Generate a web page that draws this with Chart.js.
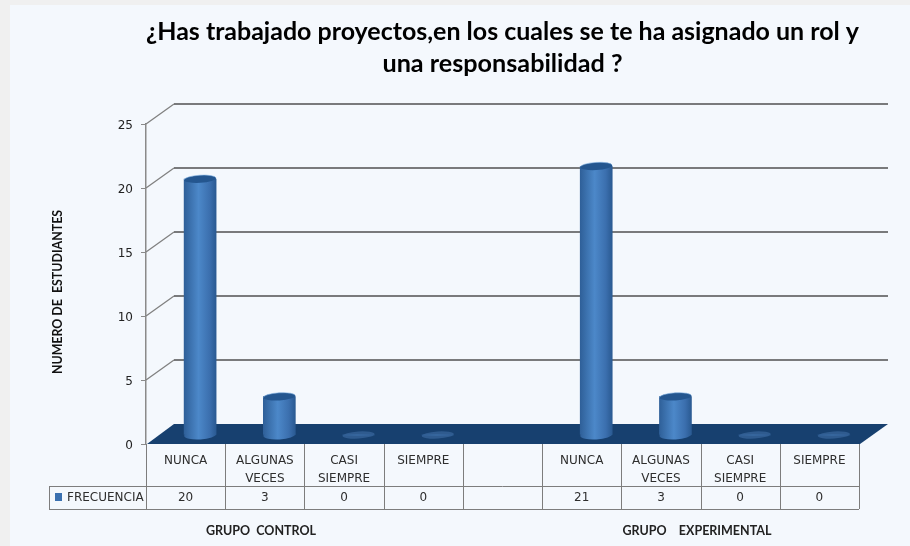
<!DOCTYPE html>
<html><head><meta charset="utf-8">
<style>html,body{margin:0;padding:0;background:#f4f8fd}canvas{display:block}</style>
<script src="https://cdn.jsdelivr.net/npm/chart.js@4"></script></head>
<body><canvas id="c" width="910" height="546"></canvas>
<script>
const categories = [["NUNCA"],["ALGUNAS","VECES"],["CASI","SIEMPRE"],["SIEMPRE"],[""],["NUNCA"],["ALGUNAS","VECES"],["CASI","SIEMPRE"],["SIEMPRE"]];
const frecuencia = [20,3,0,0,null,21,3,0,0];
const seriesName = "FRECUENCIA";
const yTicks = [0,5,10,15,20,25];
const titleLines = ["¿Has trabajado proyectos,en los cuales se te ha asignado un rol y","una responsabilidad ?"];
const yTitle = "NUMERO DE  ESTUDIANTES";
const groupControl = "GRUPO  CONTROL";
const groupExperimental = "GRUPO    EXPERIMENTAL";

const DX = 28, DY = 20, BAR_DX = 14.5, BAR_DY = 9;
const tableFont = '12px "DejaVu Sans"';

function barGradientAt(c,cx){
  const g = c.createLinearGradient(cx-16,0,cx+16,0);
  g.addColorStop(0,'#2f6099'); g.addColorStop(0.45,'#4c88c9'); g.addColorStop(0.8,'#3b6fae'); g.addColorStop(1,'#2a5a92');
  return g;
}
function barGradient(ctx){
  const chart = ctx.chart;
  if(ctx.type !== 'data' || !chart.chartArea) return '#3a70b0';
  return barGradientAt(chart.ctx, chart.scales.x.getPixelForValue(ctx.dataIndex));
}

const scene = {
  id:'scene',
  beforeDraw(chart){
    const c = chart.ctx;
    c.save();
    c.fillStyle = '#f4f8fd'; c.fillRect(0,0,910,546);
    c.fillStyle = '#f0f0f0'; c.fillRect(0,0,10,546); c.fillRect(0,0,910,5);
    c.restore();
  },
  beforeDatasetsDraw(chart){
    const c = chart.ctx, {left,right} = chart.chartArea, y = chart.scales.y, x = chart.scales.x;
    c.save();
    c.strokeStyle='#808080'; c.lineWidth=1.3;
    yTicks.forEach(v=>{
      if(v===0) return;
      const p=y.getPixelForValue(v);
      c.beginPath();c.moveTo(left,p);c.lineTo(left+DX,p-DY);c.stroke();
    });
    c.strokeStyle='#505050';
    yTicks.forEach(v=>{
      if(v===0) return;
      const p=y.getPixelForValue(v);
      c.beginPath();c.moveTo(left+DX,p-DY);c.lineTo(right+DX+1,p-DY);c.stroke();
    });
    const b=y.getPixelForValue(0);
    c.fillStyle='#17406f';
    c.beginPath();c.moveTo(left+1,b);c.lineTo(left+DX,b-DY);c.lineTo(right+DX+1,b-DY);c.lineTo(right+1,b);c.closePath();c.fill();
    const rowA=486, rowB=509, legendLeft=49;
    c.strokeStyle='#7d7d7d'; c.lineWidth=1;
    const line=(a,b2,d,e)=>{c.beginPath();c.moveTo(a,b2);c.lineTo(d,e);c.stroke();};
    line(left,rowA+.5,right,rowA+.5);
    line(legendLeft,rowB+.5,right,rowB+.5);
    line(legendLeft,rowA+.5,left,rowA+.5);
    line(legendLeft+.5,rowA,legendLeft+.5,rowB);
    const step=(right-left)/categories.length;
    for(let i=0;i<=categories.length;i++){const xx=Math.round(left+i*step)+.5; line(xx,b,xx,rowB);}
    c.font=tableFont; c.fillStyle='#2e2e2e'; c.textAlign='center'; c.textBaseline='middle';
    frecuencia.forEach((v,i)=>{ if(v!==null) c.fillText(String(v),x.getPixelForValue(i),rowA+12); });
    c.fillStyle='#3a70b0'; c.fillRect(55,493,7,8);
    c.fillStyle='#2e2e2e'; c.textAlign='left';
    c.font='12px "DejaVu Sans"';
    c.fillText(chart.data.datasets[0].label,67,rowA+12);
    c.font='bold 12.5px Lato'; c.fillStyle='#222'; c.textAlign='center';
    c.fillText(groupControl,261,531);
    c.fillText(groupExperimental,697,531);
    c.translate(58,292); c.rotate(-Math.PI/2);
    c.font='bold 12.4px Lato'; c.fillStyle='#111';
    c.fillText(yTitle,0,0);
    c.restore();
  },
  beforeDatasetDraw(chart){
    const c=chart.ctx;
    c.save();
    c.translate(BAR_DX,-BAR_DY);
    chart.getDatasetMeta(0).data.forEach((el,i)=>{
      const v=frecuencia[i]; if(v===null) return;
      const base=chart.scales.y.getPixelForValue(0);
      c.fillStyle = v===0 ? '#2f5b8f' : barGradientAt(c,el.x);
      c.beginPath();c.ellipse(el.x,base,16,v===0?3.6:4.4,-0.06,0,Math.PI*2);c.fill();
    });
  },
  afterDatasetDraw(chart){
    const c=chart.ctx;
    chart.getDatasetMeta(0).data.forEach((el,i)=>{
      const v=frecuencia[i]; if(!v) return;
      c.fillStyle='#24568f';
      c.strokeStyle='#7fb0e0'; c.lineWidth=.6;
      c.beginPath();c.ellipse(el.x,el.y,16,3.8,-0.06,0,Math.PI*2);c.fill();
      c.beginPath();c.ellipse(el.x,el.y,16,3.8,-0.06,Math.PI,Math.PI*2);c.stroke();
    });
    c.restore();
  }
};

new Chart(document.getElementById('c'),{
  type:'bar',
  data:{labels:categories,datasets:[{label:seriesName,data:frecuencia,backgroundColor:barGradient,barThickness:32,borderWidth:0,clip:false}]},
  options:{
    responsive:false,animation:false,
    layout:{padding:{left:0,right:51,top:0,bottom:0}},
    plugins:{
      legend:{display:false},tooltip:{enabled:false},
      title:{display:true,fullSize:false,text:titleLines,color:'#000',font:{family:'Lato',size:25.2,weight:'bold',lineHeight:1.27},padding:{top:16,bottom:44}}
    },
    scales:{
      x:{
        grid:{display:false},border:{display:false},
        afterFit(s){s.height=102;},
        ticks:{color:'#2e2e2e',font:{family:'DejaVu Sans',size:12,lineHeight:1.5},padding:0,maxRotation:0,minRotation:0,autoSkip:false}
      },
      y:{
        min:0,max:25,
        afterFit(s){s.width=146;},
        afterBuildTicks(s){s.ticks=yTicks.map(v=>({value:v}));},
        border:{display:true,color:'#8a8a8a',width:1.5},
        grid:{drawOnChartArea:false,drawTicks:true,tickLength:5,color:'#8a8a8a'},
        ticks:{color:'#222',font:{family:'DejaVu Sans',size:12},padding:8,labelOffset:2}
      }
    }
  },
  plugins:[scene]
});
</script></body></html>
